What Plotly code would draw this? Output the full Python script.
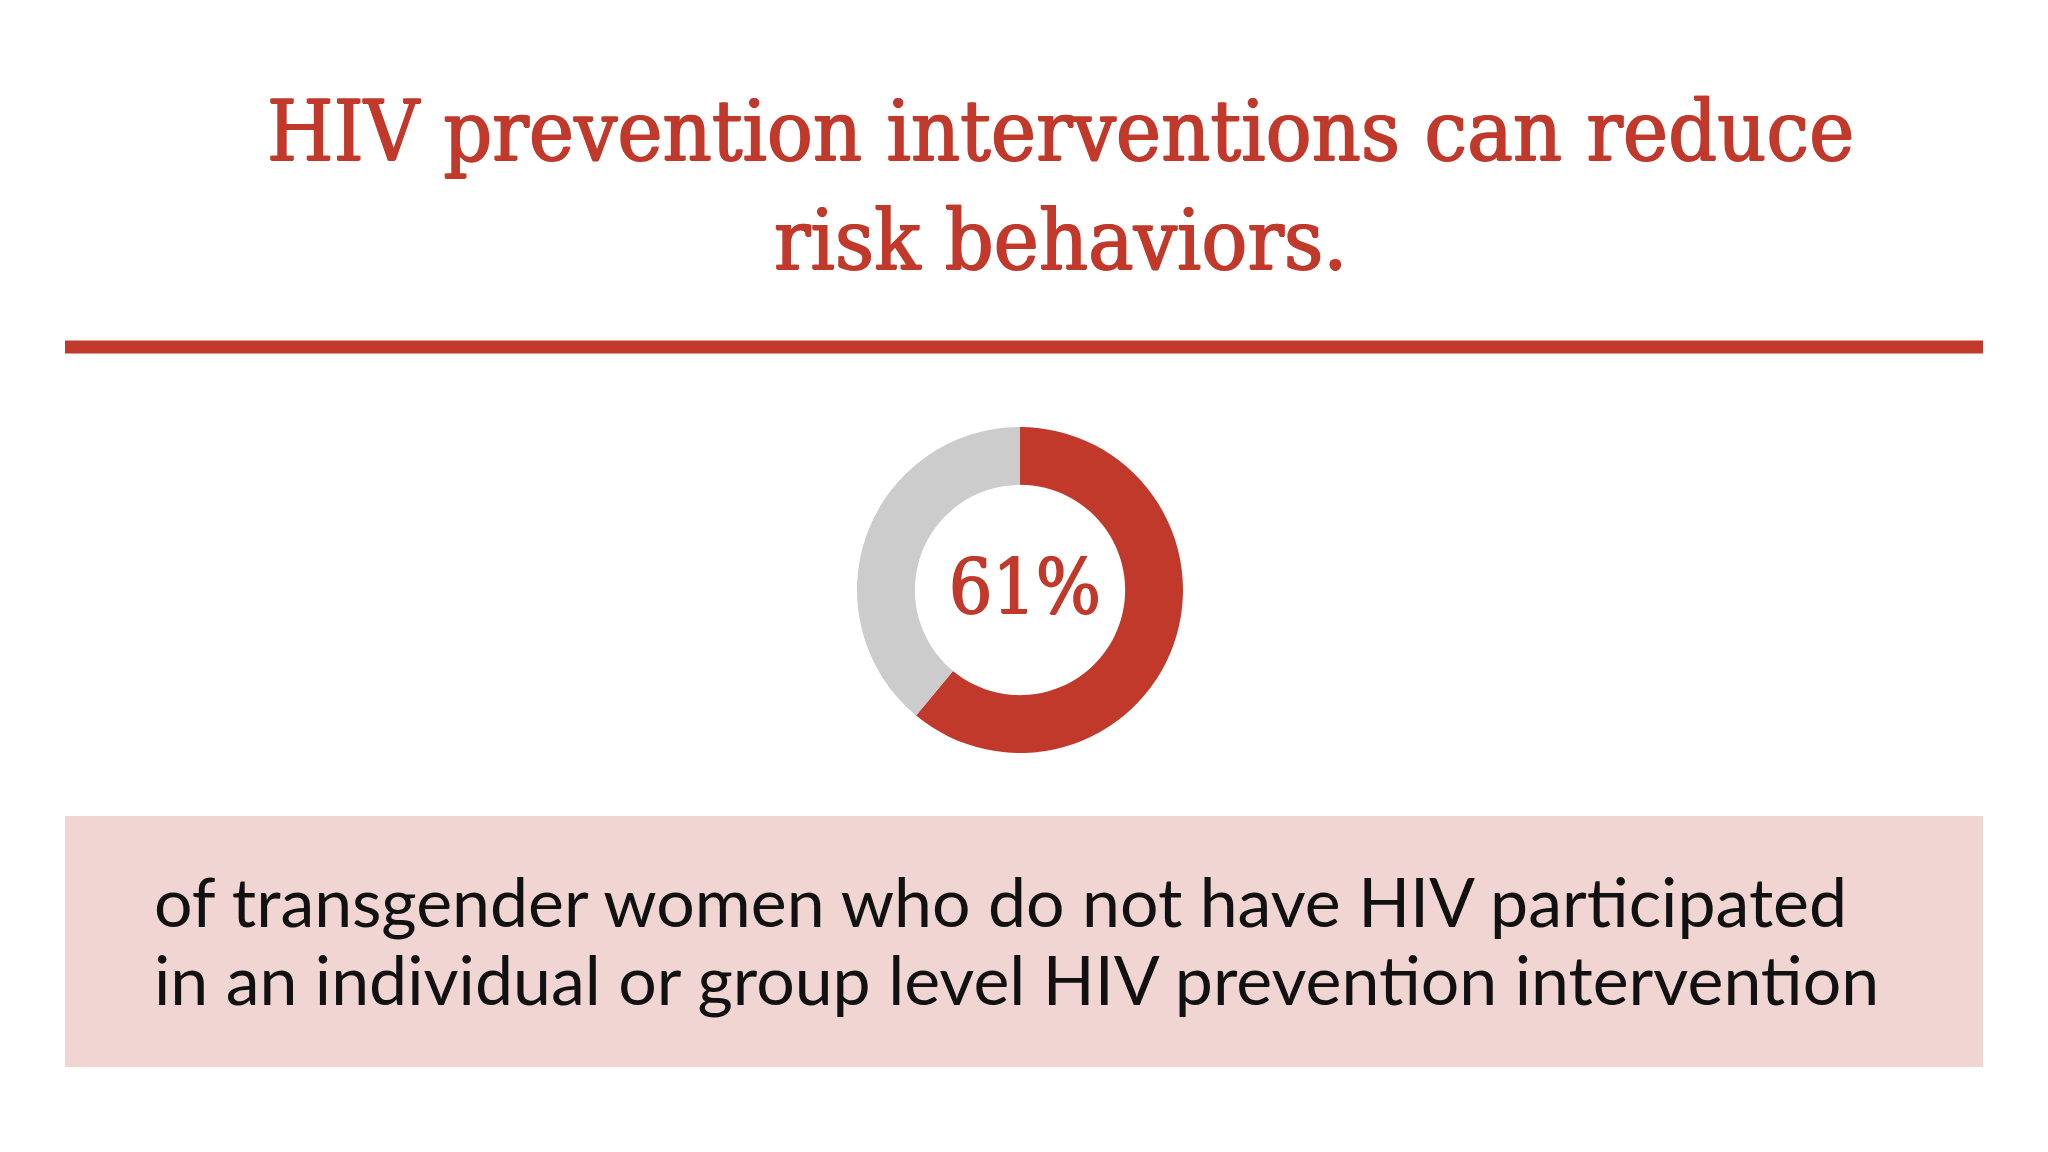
import plotly.graph_objects as go

# chart data
slice_labels = ["Participated in an HIV prevention intervention", "Did not participate"]
slice_values = [61, 39]
slice_colors = ["#C0392B", "#CCCCCC"]
center_label = "61%"

title_lines = ["HIV prevention interventions can reduce", "risk behaviors."]
caption_lines = [
    "of transgender women who do not have HIV participated",
    "in an individual or group level HIV prevention intervention",
]

# the page body has an 8px margin, so the paper is 2032x1136
OFF = 8
PW, PH = 2032, 1136
RED = "#C0392B"
PINK = "#F0D5D2"


def px_x(x):
    return (x - OFF) / PW


def px_y(y):
    # y measured from the top of the window
    return 1 - (y - OFF) / PH


fig = go.Figure()

# donut centred at (1020, 590), outer radius ~163px
cx, cy, r = 1020, 590, 163
fig.add_trace(go.Pie(
    labels=slice_labels,
    values=slice_values,
    marker=dict(colors=slice_colors, line=dict(width=0)),
    hole=0.645,
    sort=False,
    direction="clockwise",
    rotation=0,
    textinfo="none",
    showlegend=False,
    domain=dict(x=[px_x(cx - r), px_x(cx + r)], y=[px_y(cy + r), px_y(cy - r)]),
))

serif = "DejaVu Serif Condensed, Liberation Serif, serif"
sans = "Lato, Open Sans, sans-serif"
# thicken the regular serif a little so it reads semi-bold
thick = "1.8px 0 0 " + RED + ", 0.9px 0.7px 0 " + RED

# title, two lines
for i, line in enumerate(title_lines):
    fig.add_annotation(
        x=px_x(1060), y=px_y(130 + i * 110), xref="paper", yref="paper",
        text=line, showarrow=False, xanchor="center", yanchor="middle",
        font=dict(family=serif, size=85, color=RED, shadow=thick),
    )

# red rule under the title
fig.add_shape(type="line", xref="paper", yref="paper",
              x0=px_x(65), x1=px_x(1983), y0=px_y(347), y1=px_y(347),
              line=dict(color=RED, width=13))

# pink caption box
fig.add_shape(type="rect", xref="paper", yref="paper",
              x0=px_x(65), x1=px_x(1983), y0=px_y(1067), y1=px_y(816),
              fillcolor=PINK, line=dict(width=0), layer="below")

# big percentage inside the donut
fig.add_annotation(
    x=px_x(1024), y=px_y(586), xref="paper", yref="paper",
    text=center_label, showarrow=False, xanchor="center", yanchor="middle",
    font=dict(family=serif, size=76, color=RED, shadow=thick),
)

for i, line in enumerate(caption_lines):
    fig.add_annotation(
        x=px_x(152), y=px_y(900 + i * 78), xref="paper", yref="paper",
        text=line, showarrow=False, xanchor="left", yanchor="middle",
        font=dict(family=sans, size=68, color="#111111"),
    )

fig.update_layout(
    margin=dict(l=0, r=0, t=0, b=0),
    paper_bgcolor="white",
    plot_bgcolor="white",
)

fig.write_html("out.html")
